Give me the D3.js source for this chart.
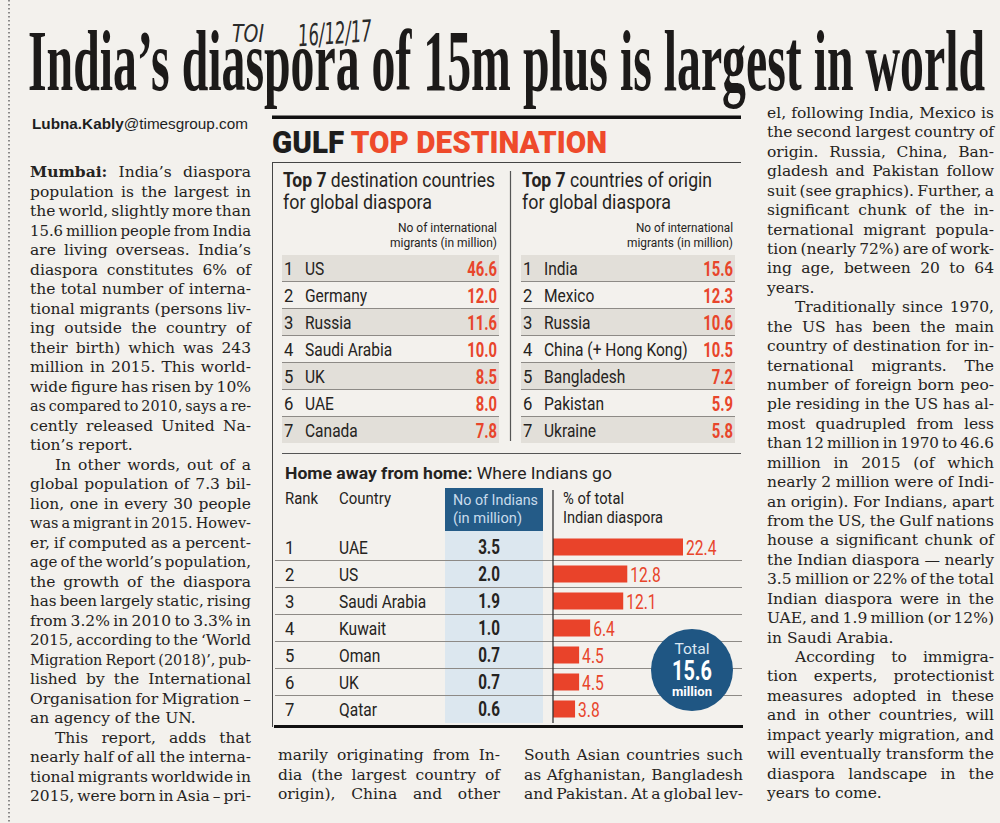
<!DOCTYPE html>
<html><head><meta charset="utf-8">
<script src="https://cdn.jsdelivr.net/npm/d3@7"></script>
<style>html,body{margin:0;padding:0;background:#f3f1ed;}svg{display:block}</style>
</head><body>
<script>
// ---------- DATA ----------
const ranks = [1,2,3,4,5,6,7];
const destCountries = ["US","Germany","Russia","Saudi Arabia","UK","UAE","Canada"];
const destValues = [46.6,12.0,11.6,10.0,8.5,8.0,7.8];
const originCountries = ["India","Mexico","Russia","China (+ Hong Kong)","Bangladesh","Pakistan","Ukraine"];
const originValues = [15.6,12.3,10.6,10.5,7.2,5.9,5.8];
const indianCountries = ["UAE","US","Saudi Arabia","Kuwait","Oman","UK","Qatar"];
const indianMillions = [3.5,2.0,1.9,1.0,0.7,0.7,0.6];
const indianShare = [22.4,12.8,12.1,6.4,4.5,4.5,3.8];
const indianTotal = 15.6;

const headline = "India’s diaspora of 15m plus is largest in world";
const leftParas = [
 ["Mumbai: India’s diaspora","population is the largest in","the world, slightly more than","15.6 million people from India","are living overseas. India’s","diaspora constitutes 6% of","the total number of interna-","tional migrants (persons liv-","ing outside the country of","their birth) which was 243","million in 2015. This world-","wide figure has risen by 10%","as compared to 2010, says a re-","cently released United Na-","tion’s report."],
 ["In other words, out of a","global population of 7.3 bil-","lion, one in every 30 people","was a migrant in 2015. Howev-","er, if computed as a percent-","age of the world’s population,","the growth of the diaspora","has been largely static, rising","from 3.2% in 2010 to 3.3% in","2015, according to the ‘World","Migration Report (2018)’, pub-","lished by the International","Organisation for Migration –","an agency of the UN."],
 ["This report, adds that","nearly half of all the interna-","tional migrants worldwide in","2015, were born in Asia – pri-"]
];
const midAParas = [["marily originating from In-","dia (the largest country of","origin), China and other"]];
const midBParas = [["South Asian countries such","as Afghanistan, Bangladesh","and Pakistan. At a global lev-"]];
const rightParas = [
 ["el, following India, Mexico is","the second largest country of","origin. Russia, China, Ban-","gladesh and Pakistan follow","suit (see graphics). Further, a","significant chunk of the in-","ternational migrant popula-","tion (nearly 72%) are of work-","ing age, between 20 to 64","years."],
 ["Traditionally since 1970,","the US has been the main","country of destination for in-","ternational migrants. The","number of foreign born peo-","ple residing in the US has al-","most quadrupled from less","than 12 million in 1970 to 46.6","million in 2015 (of which","nearly 2 million were of Indi-","an origin). For Indians, apart","from the US, the Gulf nations","house a significant chunk of","the Indian diaspora — nearly","3.5 million or 22% of the total","Indian diaspora were in the","UAE, and 1.9 million (or 12%)","in Saudi Arabia."],
 ["According to immigra-","tion experts, protectionist","measures adopted in these","and in other countries, will","impact yearly migration, and","will eventually transform the","diaspora landscape in the","years to come."]
];

// ---------- SETUP ----------
const W=1000,H=823;
const INK="#252321", RED="#e8452b", BLUE="#245b87";
const SERIF="'DejaVu Serif', serif", SANS="Roboto, 'Noto Sans', sans-serif";
const svg=d3.select("body").append("svg").attr("width",W).attr("height",H);
svg.append("rect").attr("width",W).attr("height",H).attr("fill","#f3f1ed");

function len(sel){return sel.node().getComputedTextLength();}
function toWidth(sel,w){sel.attr("textLength",w).attr("lengthAdjust","spacingAndGlyphs");return sel;}
function cond(sel,f){const l=len(sel);sel.attr("textLength",l*f).attr("lengthAdjust","spacingAndGlyphs");return sel;}

// left dotted rule
svg.append("line").attr("x1",9).attr("x2",9).attr("y1",0).attr("y2",H)
  .attr("stroke","#555").attr("stroke-width",1.3).attr("stroke-dasharray","1.5,2.5");

// headline
toWidth(svg.append("text").attr("x",28).attr("y",90).attr("font-family","'Liberation Serif', serif")
  .attr("font-weight","bold").attr("font-size",86).attr("fill","#1c1a19").text(headline),957);

// handwritten note
const hw=svg.append("g").attr("fill","#2b2b2b").attr("font-family","'DejaVu Sans', sans-serif")
  .attr("font-style","italic").attr("font-weight",200);
toWidth(hw.append("text").attr("x",232).attr("y",42).attr("font-size",24).text("TOI"),32);
toWidth(hw.append("text").attr("x",298).attr("y",44).attr("font-size",30).attr("transform","rotate(-4,330,35)").text("16/12/17"),74);

// byline
const by=svg.append("text").attr("x",32).attr("y",129).attr("font-family","'Liberation Sans', sans-serif")
  .attr("font-size",14).attr("fill","#1e1e1e");
by.append("tspan").attr("font-weight","bold").text("Lubna.Kably");
by.append("tspan").text("@timesgroup.com");
toWidth(by,216);

// body columns (lastOpen: final paragraph continues in next column, so justify its last line)
function column(paras,x0,x1,y0,lh,indent,lastOpen){
  const g=svg.append("g").attr("font-family",SERIF).attr("font-size",15.5).attr("fill",INK);
  let line=0;
  paras.forEach((p,pi)=>{
    p.forEach((ln,li)=>{
      const y=y0+line*lh; line++;
      const xs=x0+((li===0&&pi>0)?indent:0);
      const last=li===p.length-1 && !(lastOpen && pi===paras.length-1);
      const words=ln.split(" ");
      if(last){
        const t=g.append("text").attr("x",xs).attr("y",y);
        words.forEach((w,i)=>{t.append("tspan").attr("font-weight",w==="Mumbai:"?"bold":null).text((i?" ":"")+w);});
        if(len(t)>x1-xs) toWidth(t,x1-xs);
        return;
      }
      const ts=words.map(w=>g.append("text").attr("y",y).attr("font-weight",w==="Mumbai:"?"bold":null).text(w));
      const ws=ts.map(len);
      const sum=d3.sum(ws);
      let gap=(x1-xs-sum)/(words.length-1);
      let scale=1;
      if(gap<3){gap=3;scale=(x1-xs-gap*(words.length-1))/sum;}
      let x=xs;
      ts.forEach((t,i)=>{t.attr("x",x); if(scale<1) toWidth(t,ws[i]*scale); x+=ws[i]*scale+gap;});
    });
  });
}
column(leftParas,30,251,177,19.5,25,true);
column(midAParas,278,500,760,19.5,25,true);
column(midBParas,524,743,760,19.5,25,true);
column(rightParas,767,994,118,19.43,28,false);

// ---------- GRAPHIC ----------
const gx0=272,gx1=741;
svg.append("rect").attr("x",gx0).attr("y",115.5).attr("width",gx1-gx0).attr("height",3.5).attr("fill","#111");
const head=svg.append("text").attr("x",gx0).attr("y",153).attr("font-family",SANS).attr("font-weight",900).attr("font-size",31);
head.append("tspan").attr("fill","#1d1d1d").text("GULF ");
head.append("tspan").attr("fill","#ee4a2b").text("TOP DESTINATION");
toWidth(head,335);
svg.append("line").attr("x1",gx0).attr("x2",gx1).attr("y1",162.5).attr("y2",162.5).attr("stroke","#444").attr("stroke-width",1);
svg.append("line").attr("x1",gx0+0.5).attr("x2",gx0+0.5).attr("y1",162).attr("y2",727).attr("stroke","#444").attr("stroke-width",1);

// top tables
const yTop=d3.scaleBand().domain(ranks).range([255,444]);
function topTable(x0,x1,title1,w1,w2,countries,values,sub1x,sub2x){
  const g=svg.append("g").attr("font-family",SANS).attr("fill",INK);
  const t1=g.append("text").attr("x",x0).attr("y",187).attr("font-size",19.5);
  t1.append("tspan").attr("font-weight","bold").text("Top 7 ");
  t1.append("tspan").text(title1);
  toWidth(t1,w1);
  toWidth(g.append("text").attr("x",x0).attr("y",209).attr("font-size",19.5).text("for global diaspora"),w2);
  toWidth(g.append("text").attr("x",x1).attr("y",232).attr("text-anchor","end").attr("font-size",12.5).text("No of international"),sub1x);
  toWidth(g.append("text").attr("x",x1).attr("y",247).attr("text-anchor","end").attr("font-size",12.5).text("migrants (in million)"),sub2x);
  g.selectAll("rect.shade").data(ranks.filter(r=>r%2===1)).join("rect").attr("class","shade")
    .attr("x",x0-1).attr("width",x1-x0+3).attr("y",r=>yTop(r)).attr("height",yTop.bandwidth()-1).attr("fill","#e2dfd9");
  g.selectAll("line.sep").data(ranks.slice(0,6)).join("line").attr("class","sep")
    .attr("x1",x0-1).attr("x2",x1+2).attr("y1",r=>yTop(r)+yTop.bandwidth()-0.5).attr("y2",r=>yTop(r)+yTop.bandwidth()-0.5)
    .attr("stroke","#8d8a86").attr("stroke-width",1);
  ranks.forEach((r,i)=>{
    const cy=yTop(r)+yTop.bandwidth()/2+6.5;
    cond(g.append("text").attr("x",x0+1).attr("y",cy).attr("font-size",18.5).text(r),0.9);
    cond(g.append("text").attr("x",x0+22).attr("y",cy).attr("font-size",18.5).text(countries[i]),0.84);
    cond(g.append("text").attr("x",x1).attr("y",cy+0.5).attr("text-anchor","end").attr("font-size",20).attr("font-weight","bold")
      .attr("fill",RED).text(values[i].toFixed(1)),0.74);
  });
}
topTable(283,497,"destination countries",212,149,destCountries,destValues,99,107);
topTable(522,733,"countries of origin",190,149,originCountries,originValues,97,106);
svg.append("line").attr("x1",510.5).attr("x2",510.5).attr("y1",171).attr("y2",441).attr("stroke","#555").attr("stroke-width",1.2);
svg.append("line").attr("x1",282).attr("x2",gx1).attr("y1",453.5).attr("y2",453.5).attr("stroke","#555").attr("stroke-width",1);

// home away from home
const gb=svg.append("g").attr("font-family",SANS).attr("fill",INK);
const hh=gb.append("text").attr("x",285).attr("y",479).attr("font-size",17);
hh.append("tspan").attr("font-weight","bold").text("Home away from home: ");
hh.append("tspan").text("Where Indians go");
toWidth(hh,327);
toWidth(gb.append("text").attr("x",285).attr("y",504).attr("font-size",16).text("Rank"),33);
toWidth(gb.append("text").attr("x",339).attr("y",504).attr("font-size",16).text("Country"),52);
gb.append("rect").attr("x",445).attr("y",531).attr("width",98).attr("height",192).attr("fill","#dce7ef");
gb.append("rect").attr("x",445).attr("y",488).attr("width",98).attr("height",43).attr("fill",BLUE);
toWidth(gb.append("text").attr("x",453).attr("y",505).attr("font-size",15).attr("fill","#c9dcec").text("No of Indians"),85);
toWidth(gb.append("text").attr("x",453).attr("y",523).attr("font-size",15).attr("fill","#c9dcec").text("(in million)"),69);
toWidth(gb.append("text").attr("x",563).attr("y",504).attr("font-size",16).text("% of total"),61);
toWidth(gb.append("text").attr("x",563).attr("y",523).attr("font-size",16).text("Indian diaspora"),100);

const yB=d3.scaleBand().domain(ranks).range([534,723]);
const xB=d3.scaleLinear().domain([0,22.4]).range([553,683]);
gb.selectAll("line.sepb").data(ranks.slice(0,6)).join("line").attr("class","sepb")
  .attr("x1",275).attr("x2",gx1+1).attr("y1",r=>yB(r)+yB.bandwidth()-0.5).attr("y2",r=>yB(r)+yB.bandwidth()-0.5)
  .attr("stroke","#8d8a86").attr("stroke-width",1);
gb.selectAll("rect.bar").data(indianShare).join("rect").attr("class","bar")
  .attr("x",xB(0)).attr("y",(d,i)=>yB(ranks[i])+yB.bandwidth()/2-9).attr("height",17)
  .attr("width",d=>xB(d)-xB(0)).attr("fill","#e9432a");
gb.append("line").attr("x1",553).attr("x2",553).attr("y1",490).attr("y2",723).attr("stroke","#333").attr("stroke-width",1.3);
ranks.forEach((r,i)=>{
  const cy=yB(r)+yB.bandwidth()/2+6.5;
  cond(gb.append("text").attr("x",285).attr("y",cy).attr("font-size",18.5).text(r),0.9);
  cond(gb.append("text").attr("x",339).attr("y",cy).attr("font-size",18.5).text(indianCountries[i]),0.84);
  cond(gb.append("text").attr("x",500).attr("y",cy).attr("text-anchor","end").attr("font-size",19.5).attr("font-weight","bold")
    .text(indianMillions[i].toFixed(1)),0.78);
  cond(gb.append("text").attr("x",xB(indianShare[i])+3).attr("y",cy+0.5).attr("font-size",19.5).attr("fill",RED)
    .text(indianShare[i].toFixed(1)),0.8);
});
// total circle
gb.append("circle").attr("cx",692).attr("cy",670).attr("r",41).attr("fill","#1f5683");
toWidth(gb.append("text").attr("x",692).attr("y",654).attr("text-anchor","middle").attr("font-size",15).attr("fill","#dbe8f3").text("Total"),35);
toWidth(gb.append("text").attr("x",692).attr("y",680).attr("text-anchor","middle").attr("font-size",27).attr("font-weight","bold").attr("fill","#fff").text(indianTotal.toFixed(1)),40);
toWidth(gb.append("text").attr("x",692).attr("y",696).attr("text-anchor","middle").attr("font-size",13.5).attr("font-weight","bold").attr("fill","#fff").text("million"),40);
// bottom rule
svg.append("rect").attr("x",274).attr("y",725).attr("width",469).attr("height",3).attr("fill","#111");
</script>
</body></html>
